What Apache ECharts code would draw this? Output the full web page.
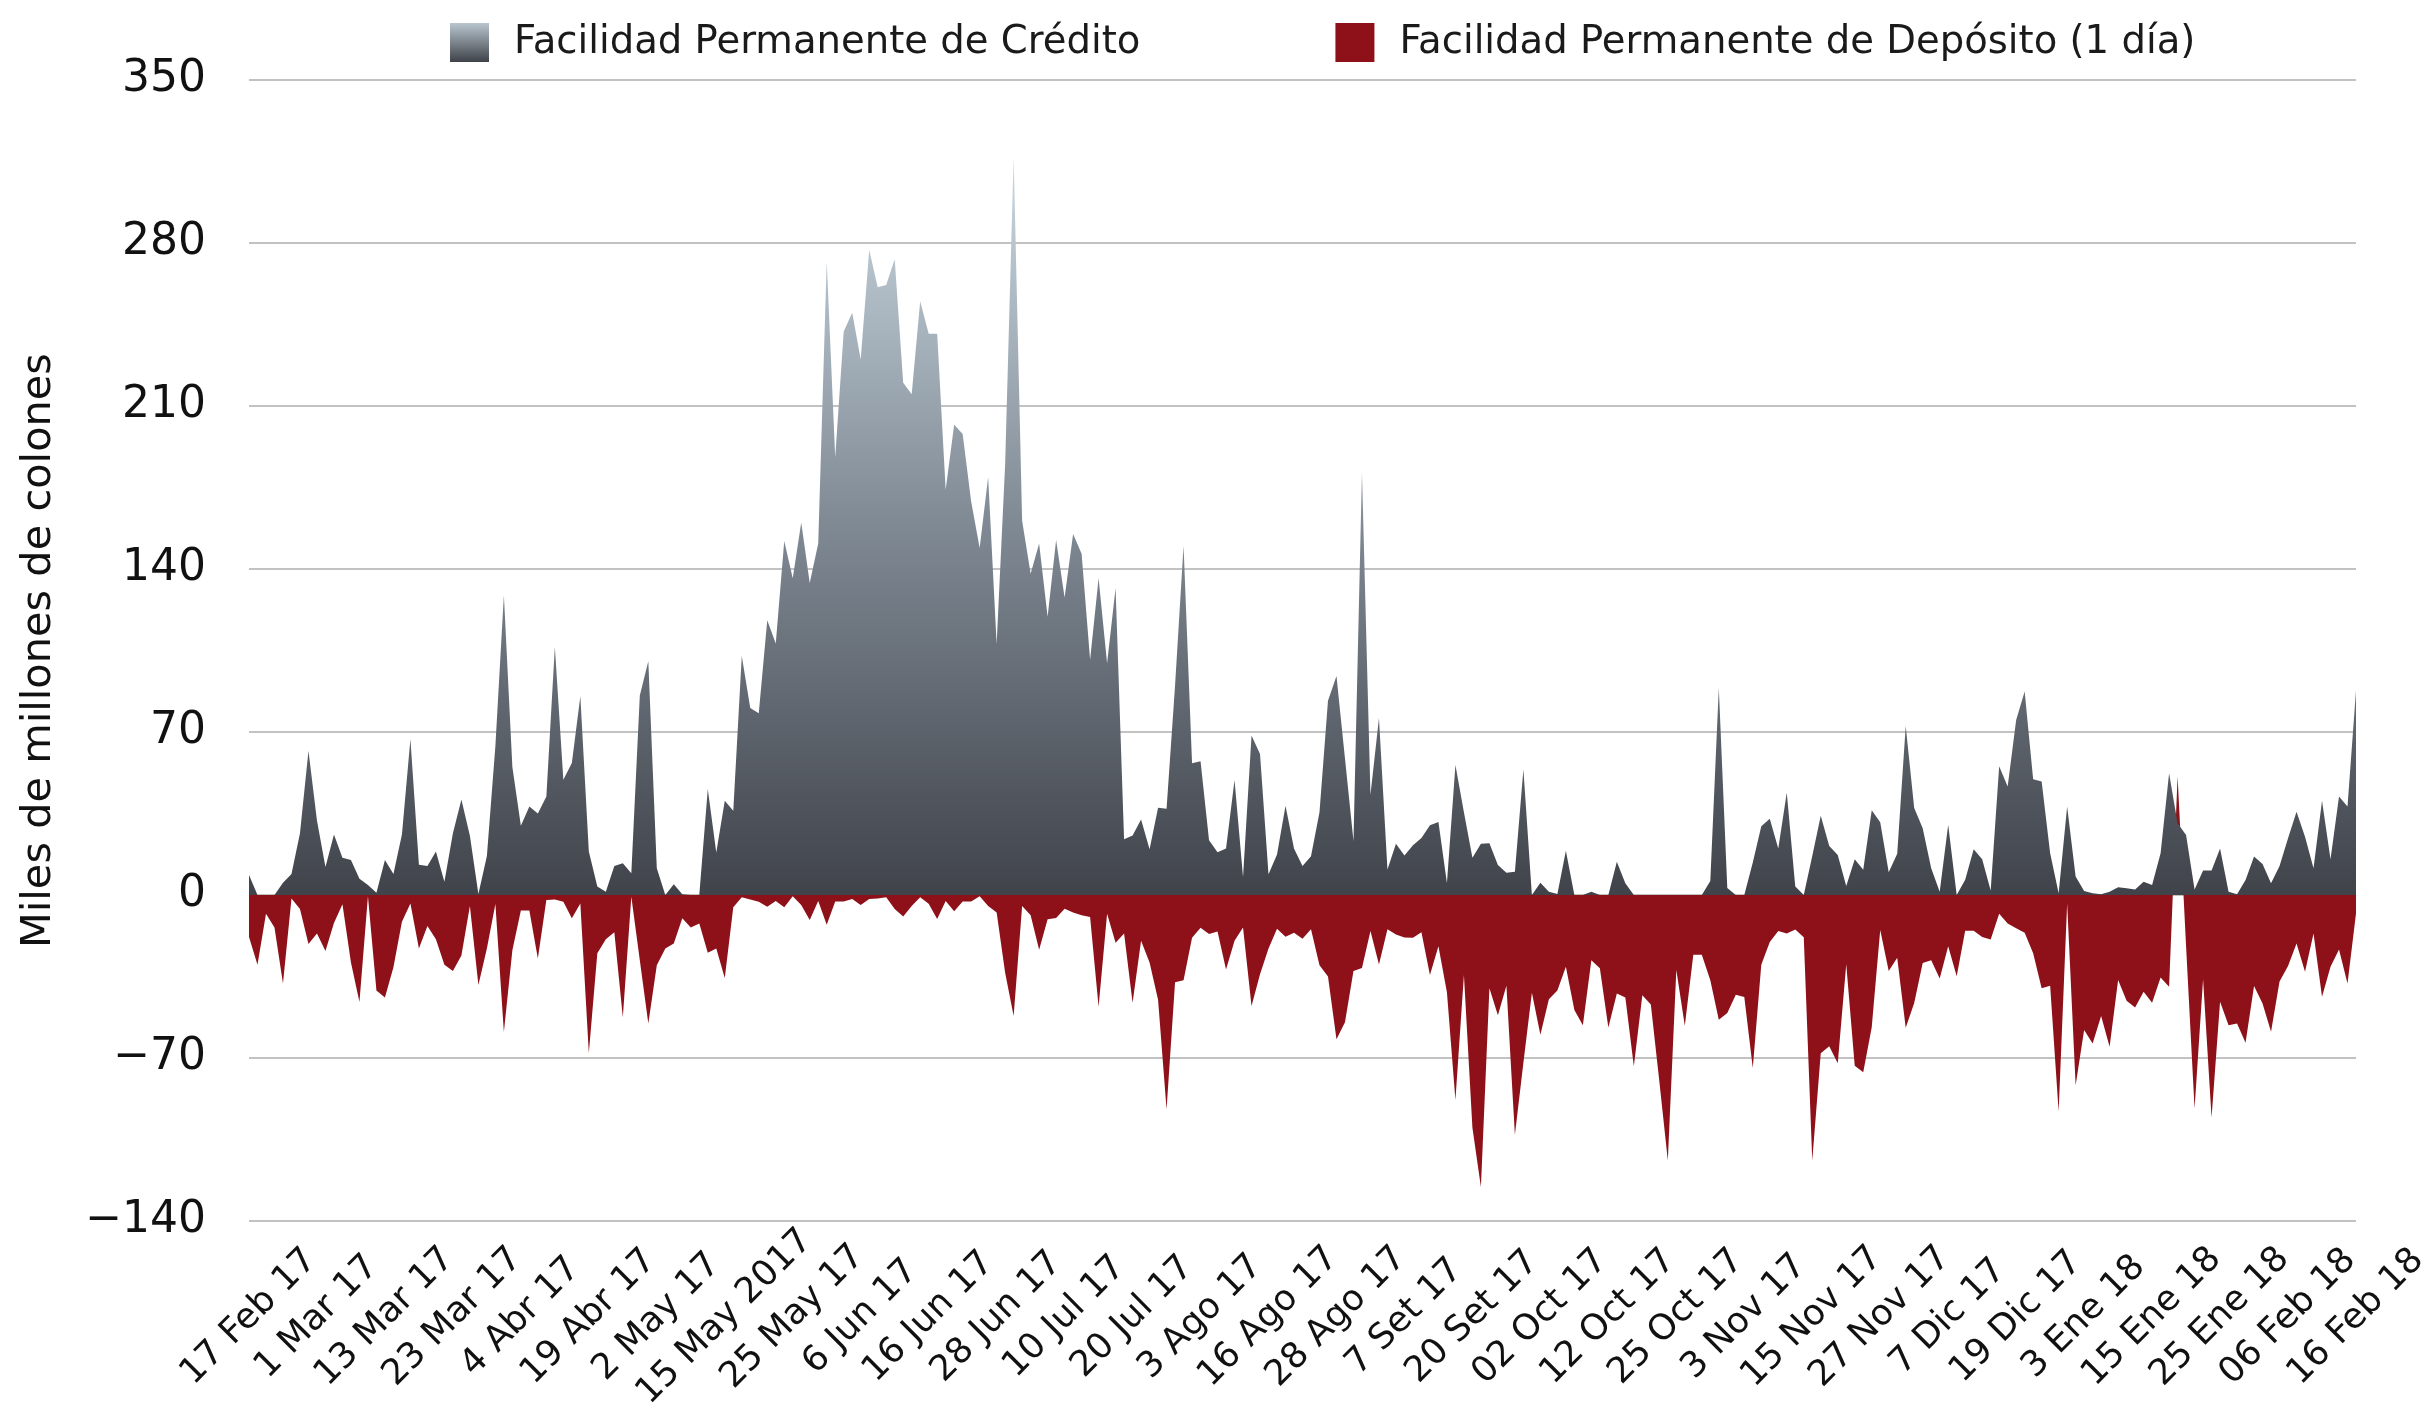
<!DOCTYPE html>
<html><head><meta charset="utf-8">
<script src="https://cdn.jsdelivr.net/npm/echarts/dist/echarts.min.js"></script>
<style>html,body{margin:0;padding:0;background:#fff}#c{width:2424px;height:1414px}</style>
</head><body><div id="c"></div>
<script>
const tickLabels = ['17 Feb 17','1 Mar 17','13 Mar 17','23 Mar 17','4 Abr 17','19 Abr 17','2 May 17','15 May 2017','25 May 17','6 Jun 17','16 Jun 17','28 Jun 17','10 Jul 17','20 Jul 17','3 Ago 17','16 Ago 17','28 Ago 17','7 Set 17','20 Set 17','02 Oct 17','12 Oct 17','25 Oct 17','3 Nov 17','15 Nov 17','27 Nov 17','7 Dic 17','19 Dic 17','3 Ene 18','15 Ene 18','25 Ene 18','06 Feb 18','16 Feb 18'];
const yTicks = [-140,-70,0,70,140,210,280,350];
const credito = [
8.6,0,0,0,5.3,9,26.5,62,32,12,26,16,15,7,4.3,1,15,9,26,67,
13,12.5,18.7,5.7,26.5,41,25.4,0.4,16.8,64,128.7,55,29.7,38,35,42.3,106.6,49.5,56.7,85.4,
18.7,3.6,1.4,12.5,13.6,9.3,85.7,100.4,11.5,0,4.6,0.3,0,0,45.5,18.2,40.5,36.2,102.6,80.3,
78,118,108,152,136,160,134,151,272,188,242,250,230,277,261,262,273,220,215,255,
241,241,174,202,198,169,149,179.5,107.8,185,317,160.7,138,151,119.5,152.5,127.8,155,146.6,101,
136,99.5,131.8,23.9,25.6,32.4,19.6,37.5,37,90,150,56.6,57.4,23.5,18.4,20,49.4,7.7,68.5,60.5,
8.9,17.4,38.3,20,12.5,16.6,35.5,83.4,94,58.6,23.2,181.6,43,76,11,22,17,21.4,24.5,30,
31.3,5.2,55.8,35.5,16,22,22.2,12.9,9.6,10,54,0,5.3,1.4,0.4,19,0,0,1.4,0,
0,14.3,5,0,0,0,0,0,0,0,0,0,6,89,3,0,0,14,29.5,32.7,
20,44,3.6,0,16.7,34,21,17.2,3.9,15.4,10.8,36.4,31.2,9.8,17.7,72.6,37.4,28.7,11.5,1.4,
30.2,0,6.5,19.7,15.4,1.9,55.3,46.6,75.2,87.4,49.7,48.7,17.9,0.7,38,7.9,1.7,0.7,0.3,1.4,
3.3,2.9,2.4,5.7,4.3,17.9,52.3,30.8,25.8,2.4,10.5,10.5,20,1.4,0.3,6.4,16.5,13.3,5,12.5,
24.4,35.8,25,11.5,40.5,15.3,42.3,38,87.8
];
const deposito = [
-18,-30,-8,-14,-38,-1.5,-6,-21,-16.5,-24,-12,-4,-29,-46,-0.5,-41,-44,-31,-11.5,-3.6,
-23,-13.3,-19,-30,-32.6,-26,-4.7,-38.7,-23,-3.9,-58.8,-23.7,-6.7,-6.7,-27.3,-2.2,-1.9,-2.9,-10,-3.6,
-67.9,-25,-19,-16,-52.5,-0.7,-28,-55.2,-30.2,-23,-20.8,-10,-14,-12.2,-24.8,-23,-35.6,-5.3,-1,-1.9,
-2.9,-5,-2.6,-5.3,-0.5,-4.3,-10.7,-2.6,-12.8,-2.8,-2.8,-1.7,-4.3,-1.7,-1.5,-1,-6,-9.2,-4.7,-1,
-3.8,-10.3,-2.6,-7,-2.8,-2.8,-0.5,-4.7,-7.5,-33.4,-52,-4.7,-8.7,-23.5,-10.4,-9.9,-5.9,-7.5,-8.7,-9.4,
-48,-8,-20.5,-16.5,-46.3,-19.6,-29,-45,-92,-37.5,-36.6,-18.4,-14.1,-16.7,-15.7,-32,-19.6,-14,-47.7,-34,
-23,-14.5,-17.9,-16.2,-18.8,-14.7,-30.2,-35,-62,-54.7,-32.6,-31.3,-15.5,-29.8,-14.7,-17,-18.2,-18.4,-16,-34.4,
-22,-41.8,-88,-34.4,-100,-125.4,-40,-51.6,-39,-103,-72,-42,-60,-44.8,-41,-30.8,-49.4,-55.9,-28,-31.5,
-56.9,-42.3,-44,-73.5,-43,-47,-80,-114,-32.2,-56.2,-25.7,-25.7,-36.6,-53.6,-50.7,-42.8,-43.8,-74.3,-30,-20.2,
-15.5,-16.5,-14.8,-18.1,-114,-68,-65,-72.3,-29.7,-73.3,-76.1,-56.8,-15,-32.6,-26.9,-57,-46.4,-29.2,-28,-35.9,
-22,-34.9,-15.4,-15.4,-18,-19.1,-8,-12.2,-14.3,-16.2,-25,-40,-39,-93,-3.6,-81.7,-58,-63.8,-52,-65.2,
-36.5,-45.4,-48.3,-41.5,-46.3,-35.4,-39.4,51,-22,-91.7,-36.2,-95.6,-45.8,-55.9,-55.2,-63.5,-39.1,-46.6,-58.7,-37.2,
-30.5,-20.8,-33,-16.5,-43.7,-30.8,-23.4,-38,-7.9
];
const categories = credito.map((_, i) => i);
const nameCred = 'Facilidad Permanente de Crédito';
const nameDep = 'Facilidad Permanente de Depósito (1 día)';

const chart = echarts.init(document.getElementById('c'));
const grayGrad = new echarts.graphic.LinearGradient(0, 0, 0, 1, [
  {offset: 0, color: '#cad8e1'},
  {offset: 0.5, color: '#7f8994'},
  {offset: 1, color: '#40434a'}
]);
const iconGrad = new echarts.graphic.LinearGradient(0, 0, 0, 1, [
  {offset: 0, color: '#b9c6cf'},
  {offset: 1, color: '#3f4249'}
]);
const red = '#8e1119';
chart.setOption({
  animation: false,
  backgroundColor: '#ffffff',
  textStyle: {fontFamily: 'DejaVu Sans'},
  legend: {
    top: 18, left: 445, itemWidth: 39, itemHeight: 39, itemGap: 195,
    formatter: n => '{a|' + n + '}',
    textStyle: {fontSize: 38.6, color: '#1a1a1a', rich: {a: {fontSize: 38.6, color: '#1a1a1a', fontFamily: 'DejaVu Sans', padding: [0, 0, 0, 20]}}},
    data: [
      {name: nameCred, icon: 'rect', itemStyle: {color: iconGrad}},
      {name: nameDep, icon: 'rect', itemStyle: {color: red}}
    ]
  },
  grid: {left: 249, right: 68, top: 80, bottom: 193, outerBoundsMode: 'none', containLabel: false},
  xAxis: {
    type: 'category', data: categories, boundaryGap: false,
    axisLine: {show: false}, axisTick: {show: false},
    axisLabel: {
      interval: 7, rotate: 45, align: 'center', verticalAlign: 'middle', margin: 96,
      fontSize: 35.5, color: '#111', fontFamily: 'DejaVu Sans',
      formatter: (v, idx) => tickLabels[Math.round(idx / 8)]
    }
  },
  yAxis: {
    type: 'value', min: yTicks[0], max: yTicks[yTicks.length - 1], interval: 70,
    name: 'Miles de millones de colones', nameLocation: 'middle', nameGap: 189,
    nameTextStyle: {fontSize: 41.5, color: '#111', fontFamily: 'DejaVu Sans'},
    axisLine: {show: false}, axisTick: {show: false},
    axisLabel: {fontSize: 44, margin: 43, color: '#111', fontFamily: 'DejaVu Sans',
      formatter: v => v < 0 ? '\u2212' + Math.abs(v) : String(v)},
    splitLine: {lineStyle: {color: '#c2c2c2', width: 2}}
  },
  series: [
    {name: nameDep, type: 'line', data: deposito, showSymbol: false, symbol: 'none',
     lineStyle: {width: 0, opacity: 0}, itemStyle: {color: red},
     areaStyle: {color: red, opacity: 1}, z: 2},
    {name: nameCred, type: 'line', data: credito, showSymbol: false, symbol: 'none',
     lineStyle: {width: 0, opacity: 0}, itemStyle: {color: '#6a717a'},
     areaStyle: {color: grayGrad, opacity: 1}, z: 3}
  ]
});
</script>
</body></html>
